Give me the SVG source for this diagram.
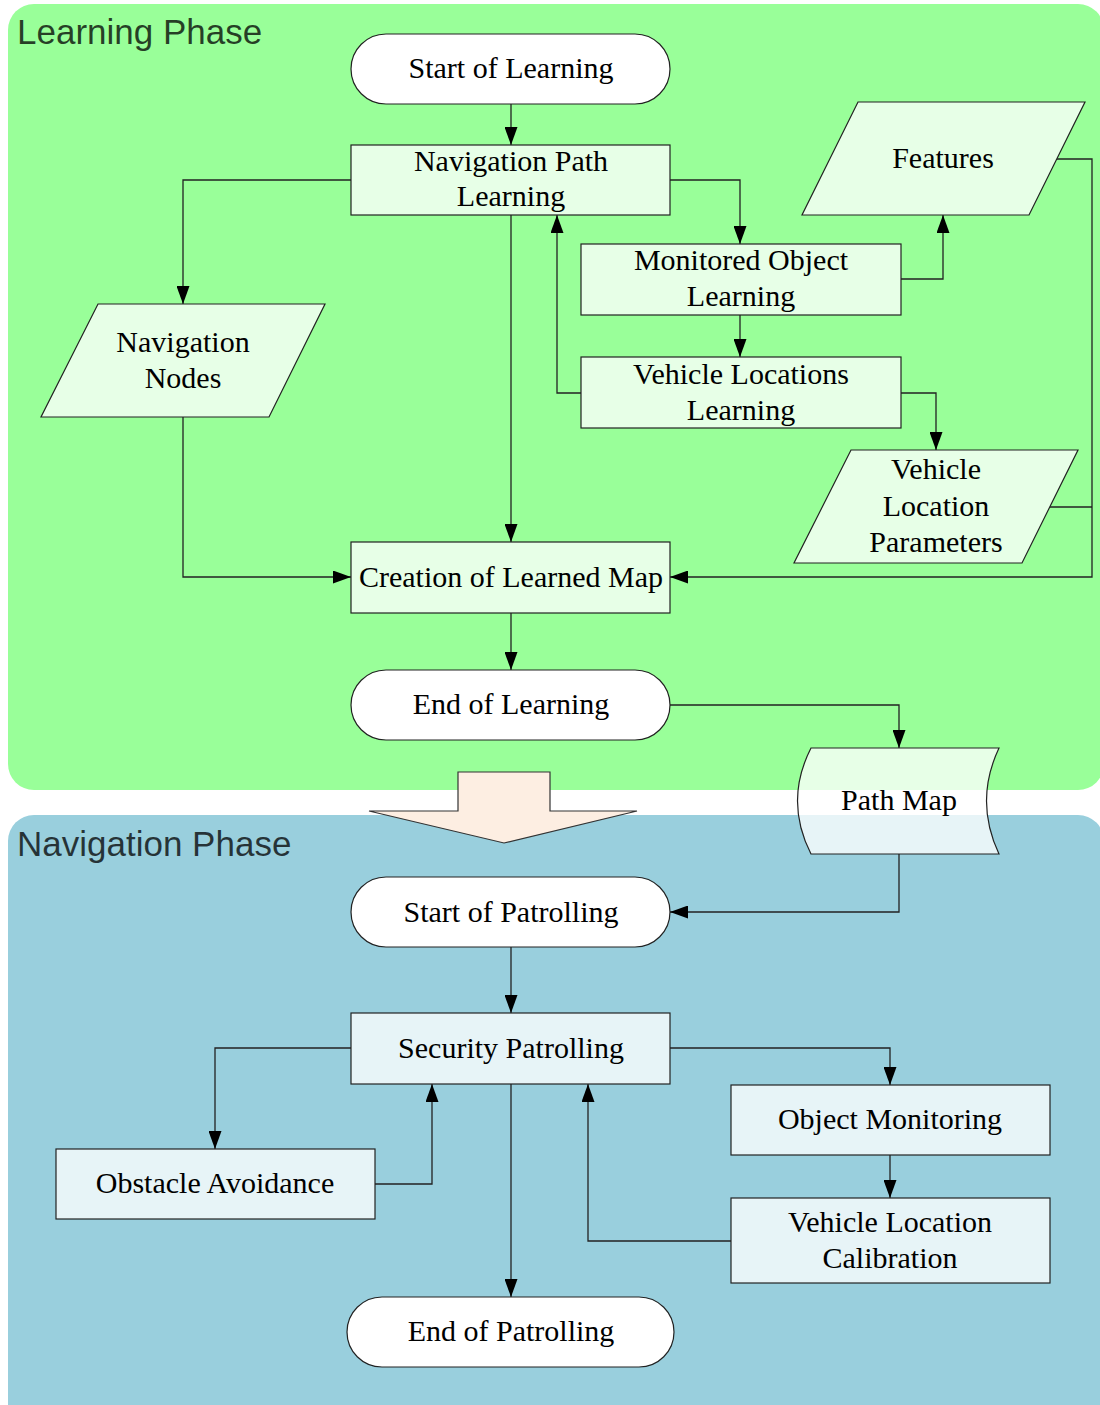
<svg xmlns="http://www.w3.org/2000/svg" width="1100" height="1405" viewBox="0 0 1100 1405">
  <style>
    .phase { font-family: "Liberation Sans", Arial, sans-serif; font-size: 35px; fill: #000; fill-opacity: 0.75; }
    .lbl { font-family: "Liberation Serif", "Times New Roman", serif; font-size: 30px; fill: #000; text-anchor: middle; }
    .node { fill: #fff; fill-opacity: 0.77; stroke: #222; stroke-width: 1.2; }
    .term { fill: #fff; stroke: #222; stroke-width: 1.2; }
    .wire { fill: none; stroke: #222; stroke-width: 1.3; marker-end: url(#head); }
    .wire-plain { fill: none; stroke: #222; stroke-width: 1.3; }
  </style>
  <defs>
    <marker id="head" markerWidth="18" markerHeight="13" refX="18" refY="6.5" viewBox="0 0 18 13" orient="auto" markerUnits="userSpaceOnUse">
      <path d="M0,0 L18,6.5 L0,13 Z" fill="#000"/>
    </marker>
  </defs>

  <rect width="1100" height="1405" fill="#fff"/>

  <!-- phase panels -->
  <g id="learning-phase">
    <rect x="8" y="4" width="1096" height="786" rx="26" fill="#99ff99"/>
    <text class="phase" x="17" y="44">Learning Phase</text>
  </g>
  <g id="navigation-phase">
    <rect x="8" y="815" width="1096" height="630" rx="26" fill="#99cfdd"/>
    <text class="phase" x="17" y="856">Navigation Phase</text>
  </g>

  <!-- phase transition arrow -->
  <g id="phase-arrow">
    <polygon points="458,772 550,772 550,811 637,811 504,843 369,811 458,811" fill="#fdeee2" stroke="#333" stroke-width="1.2"/>
  </g>

  <!-- connectors -->
  <g id="connectors">
    <path class="wire" d="M511,104 V145"/>
    <path class="wire" d="M351,180 H183 V304"/>
    <path class="wire" d="M670,180 H740 V244"/>
    <path class="wire" d="M511,215 V542"/>
    <path class="wire" d="M901,279 H943 V215"/>
    <path class="wire" d="M740,315 V357"/>
    <path class="wire" d="M581,393 H557 V215"/>
    <path class="wire" d="M901,393 H936 V450"/>
    <path class="wire" d="M1057,159 H1092 V577 H670"/>
    <path class="wire-plain" d="M1050,507 H1092"/>
    <path class="wire" d="M183,417 V577 H351"/>
    <path class="wire" d="M511,613 V670"/>
    <path class="wire" d="M670,705 H899 V748"/>
    <path class="wire" d="M899,854 V912 H670"/>
    <path class="wire" d="M511,947 V1013"/>
    <path class="wire" d="M351,1048 H215 V1149"/>
    <path class="wire" d="M375,1184 H432 V1084"/>
    <path class="wire" d="M670,1048 H890 V1085"/>
    <path class="wire" d="M511,1084 V1297"/>
    <path class="wire" d="M890,1155 V1198"/>
    <path class="wire" d="M731,1241 H588 V1084"/>
  </g>

  <!-- learning phase nodes -->
  <g id="start-learning">
    <rect class="term" x="351" y="34" width="319" height="70" rx="35"/>
    <text class="lbl" x="511" y="78">Start of Learning</text>
  </g>
  <g id="nav-path-learning">
    <rect class="node" x="351" y="145" width="319" height="70"/>
    <text class="lbl" x="511" y="171">Navigation Path</text>
    <text class="lbl" x="511" y="206">Learning</text>
  </g>
  <g id="features">
    <polygon class="node" points="858,102 1085,102 1029,215 802,215"/>
    <text class="lbl" x="943" y="168">Features</text>
  </g>
  <g id="monitored-object-learning">
    <rect class="node" x="581" y="244" width="320" height="71"/>
    <text class="lbl" x="741" y="270">Monitored Object</text>
    <text class="lbl" x="741" y="306">Learning</text>
  </g>
  <g id="vehicle-locations-learning">
    <rect class="node" x="581" y="357" width="320" height="71"/>
    <text class="lbl" x="741" y="384">Vehicle Locations</text>
    <text class="lbl" x="741" y="420">Learning</text>
  </g>
  <g id="navigation-nodes">
    <polygon class="node" points="98,304 325,304 269,417 41,417"/>
    <text class="lbl" x="183" y="352">Navigation</text>
    <text class="lbl" x="183" y="388">Nodes</text>
  </g>
  <g id="vehicle-location-parameters">
    <polygon class="node" points="851,450 1078,450 1022,563 794,563"/>
    <text class="lbl" x="936" y="479">Vehicle</text>
    <text class="lbl" x="936" y="516">Location</text>
    <text class="lbl" x="936" y="552">Parameters</text>
  </g>
  <g id="creation-learned-map">
    <rect class="node" x="351" y="542" width="319" height="71"/>
    <text class="lbl" x="511" y="587">Creation of Learned Map</text>
  </g>
  <g id="end-learning">
    <rect class="term" x="351" y="670" width="319" height="70" rx="35"/>
    <text class="lbl" x="511" y="714">End of Learning</text>
  </g>
  <g id="path-map">
    <path class="node" d="M811,748 H999 Q974,801 999,854 H811 Q784,801 811,748 Z"/>
    <text class="lbl" x="899" y="810">Path Map</text>
  </g>

  <!-- navigation phase nodes -->
  <g id="start-patrolling">
    <rect class="term" x="351" y="877" width="319" height="70" rx="35"/>
    <text class="lbl" x="511" y="922">Start of Patrolling</text>
  </g>
  <g id="security-patrolling">
    <rect class="node" x="351" y="1013" width="319" height="71"/>
    <text class="lbl" x="511" y="1058">Security Patrolling</text>
  </g>
  <g id="obstacle-avoidance">
    <rect class="node" x="56" y="1149" width="319" height="70"/>
    <text class="lbl" x="215" y="1193">Obstacle Avoidance</text>
  </g>
  <g id="object-monitoring">
    <rect class="node" x="731" y="1085" width="319" height="70"/>
    <text class="lbl" x="890" y="1129">Object Monitoring</text>
  </g>
  <g id="vehicle-location-calibration">
    <rect class="node" x="731" y="1198" width="319" height="85"/>
    <text class="lbl" x="890" y="1232">Vehicle Location</text>
    <text class="lbl" x="890" y="1268">Calibration</text>
  </g>
  <g id="end-patrolling">
    <rect class="term" x="347" y="1297" width="327" height="70" rx="35"/>
    <text class="lbl" x="511" y="1341">End of Patrolling</text>
  </g>
</svg>
